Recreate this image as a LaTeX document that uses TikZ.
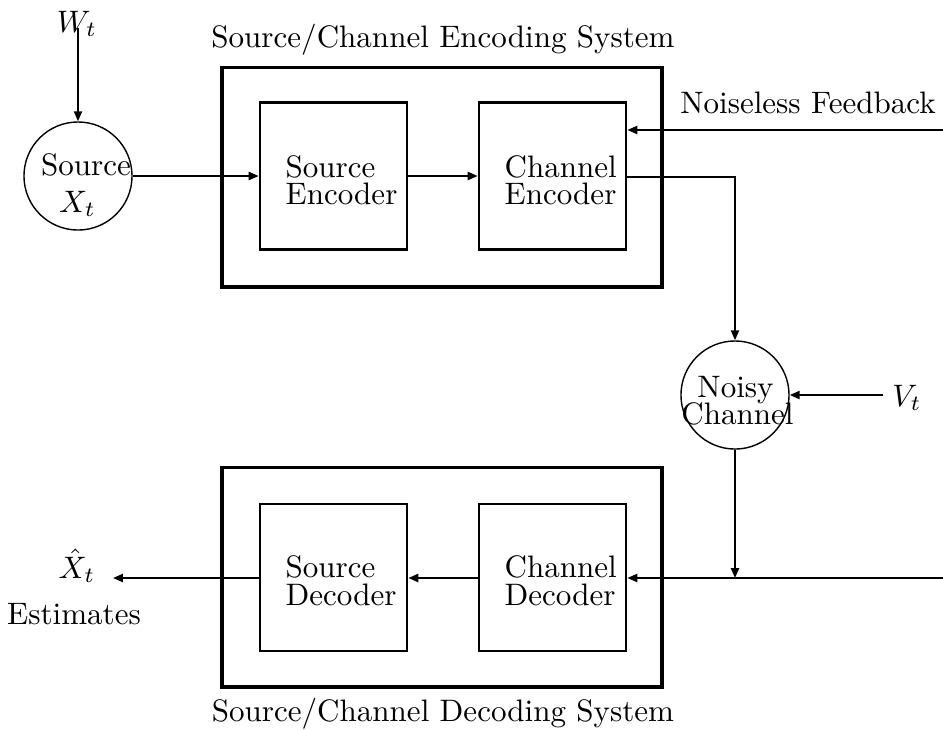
\documentclass[tikz,border=0pt]{standalone}
\usetikzlibrary{arrows.meta}
\begin{document}
\begin{tikzpicture}[x=0.322pt,y=-0.322pt,
  conn/.style={line width=0.65pt,-{Triangle[length=3.2pt,width=2.6pt]}},
  outerbox/.style={draw,line width=1pt,minimum width=141.7pt,minimum height=70.8pt,inner sep=0pt},
  blockbox/.style={draw,line width=0.9pt,minimum width=47.3pt,minimum height=47.3pt,inner sep=0pt},
  ring/.style={draw,circle,line width=0.45pt,minimum size=34.8pt,inner sep=0pt},
  txt/.style={inner sep=0pt},
  line/.style={inner sep=0pt,anchor=base west},
  cline/.style={inner sep=0pt,anchor=base}]
\useasboundingbox (0,0) rectangle (943,729);
% outer systems
\node[outerbox] (encsys) at (442,177) {};
\node[outerbox] (decsys) at (442,577) {};
\node[txt] (enclab) at (443,40) {Source/Channel Encoding System};
\node[txt] (declab) at (443,714) {Source/Channel Decoding System};
% blocks
\node[blockbox] (senc) at (333.5,176) {};
\node[blockbox] (cenc) at (552.5,176) {};
\node[blockbox] (cdec) at (552.5,577.5) {};
\node[blockbox] (sdec) at (333.5,577.5) {};
\node[line] (senc1) at (285,177) {Source};
\node[line] (senc2) at (285,204) {Encoder};
\node[line] (cenc1) at (504,177) {Channel};
\node[line] (cenc2) at (504,204) {Encoder};
\node[line] (sdec1) at (285,577) {Source};
\node[line] (sdec2) at (285,605) {Decoder};
\node[line] (cdec1) at (504,577) {Channel};
\node[line] (cdec2) at (504,605) {Decoder};
% source
\node[ring] (src) at (78,176) {};
\node[cline] (srctxt1) at (86,175) {Source};
\node[cline] (srctxt2) at (77.5,212) {$X_t$};
\node[cline] (wt) at (77,32) {$W_t$};
% noisy channel
\node[ring] (nch) at (735,395) {};
\node[cline] (nchtxt1) at (735.5,397) {Noisy};
\node[cline] (nchtxt2) at (737.5,424) {Channel};
\node[txt] (vt) at (907,398) {$V_t$};
% outputs
\node[cline] (xhat) at (77,578) {$\hat{X}_t$};
\node[cline] (est) at (74,624) {Estimates};
\node[txt] (fblab) at (808,103) {Noiseless Feedback};
% coordinates
\coordinate (fbin) at (943,130);
\coordinate (rxin) at (943,578);
\coordinate (split) at (735,578);
\coordinate (turn) at (735,177);
\coordinate (wtop) at (78,28);
\coordinate (vstart) at (883,395);
\coordinate (xout) at (113,578);
% connectors
\draw[conn] (wtop) -- (src.north);
\draw[conn] (src.east) -- (senc.west);
\draw[conn] (senc.east) -- (cenc.west);
\draw[conn] (fbin) -- (cenc.east |- fbin);
\draw[conn] (cenc.east |- turn) -- (turn) -- (nch.north);
\draw[conn] (vstart) -- (nch.east);
\draw[conn] (nch.south) -- (split);
\draw[conn] (rxin) -- (cdec.east |- rxin);
\draw[conn] (cdec.west |- rxin) -- (sdec.east |- rxin);
\draw[conn] (sdec.west |- rxin) -- (xout);
\end{tikzpicture}
\end{document}
